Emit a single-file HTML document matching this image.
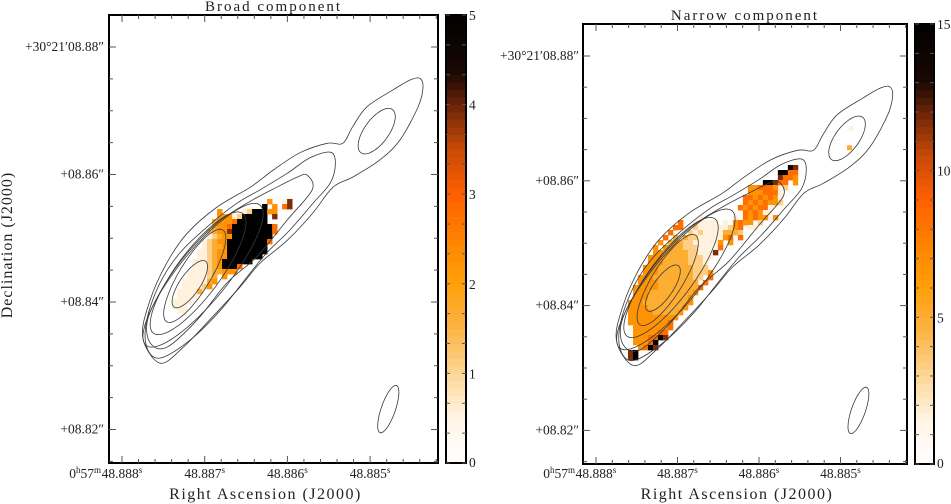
<!DOCTYPE html>
<html><head><meta charset="utf-8"><style>
html,body{margin:0;padding:0;background:#fff;width:951px;height:504px;overflow:hidden}
svg text{font-family:"Liberation Serif",serif;fill:#222}
</style></head><body>
<svg id="chart" width="951" height="504" viewBox="0 0 951 504" xmlns="http://www.w3.org/2000/svg"></svg>
<script>
// ---------- DATA ----------
const raTicks=[48.888,48.887,48.886,48.885];
const raTickLabels=["48.888","48.887","48.886","48.885"];
const decTicks=[8.88,8.86,8.84,8.82];
const decTickLabels=["+30°21′08.88″","+08.86″","+08.84″","+08.82″"];
const cbTicksBroad=[0,1,2,3,4,5];
const cbTicksNarrow=[0,5,10,15];
// contours in data units: u = (48.888-RA)*1000, v = (Dec-8.80)*100
const contour1U=[3.60,3.64,3.58,3.36,3.12,2.79,2.55,2.31,2.00,1.67,1.43,1.06,0.74,0.46,0.25,0.34,0.54,0.79,1.15,1.55,1.83,2.15,2.48,2.67,2.79,2.96,3.28,3.48];
const contour1V=[7.51,7.37,7.06,6.54,6.23,5.96,5.80,5.40,4.97,4.61,4.24,3.72,3.29,3.04,3.45,4.03,4.61,5.08,5.49,5.80,6.07,6.34,6.49,6.49,6.75,7.06,7.33,7.48];
const contour2U=[2.52,2.58,2.52,2.31,2.03,1.75,1.51,1.19,0.82,0.46,0.30,0.30,0.46,0.70,1.03,1.39,1.67,2.00,2.27];
const contour2V=[6.35,6.18,5.87,5.55,5.13,4.77,4.39,3.87,3.40,3.12,3.29,3.72,4.30,4.77,5.18,5.55,5.76,6.02,6.26];
const contour3U=[2.24,2.30,2.00,1.63,1.27,0.91,0.54,0.34,0.31,0.50,0.79,1.15,1.51,1.87,2.12];
const contour3V=[5.99,5.76,5.29,4.71,4.30,3.72,3.29,3.36,3.72,4.24,4.77,5.24,5.55,5.80,5.96];
const ellCU=[0.82,0.88,0.92,0.98,3.08,3.22];
const ellCV=[4.28,4.41,4.45,4.42,6.68,2.32];
const ellAU=[0.19,0.34,0.54,0.69,0.19,0.10];
const ellAV=[0.36,0.72,0.94,1.10,0.34,0.37];
const ellBU=[0.10,0.16,0.21,0.23,0.12,0.08];
const ellBV=[-0.09,-0.13,-0.21,-0.25,-0.11,-0.04];
const broadOrigin=[0.605,5.616], broadCell=[0.0605,0.0784];
const broadRows=[
"                   4  17",
"                  9 4 57",
"         4    1299944   ",
"         4441299999 7   ",
"        34445999999     ",
"        3445999999995   ",
"       23447999999995   ",
"       1234499999999    ",
"      12344999999995    ",
"      1233499999999     ",
"     11234499999999     ",
"     1123449999999      ",
"    111234999999        ",
"    1112349995          ",
"   1111233444           ",
"   111123 4             ",
"  1111134               ",
"  111124                ",
" 11113                  ",
" 1111                   ",
"1111                    ",
"111                     ",
" 11                     "];
const narrowOrigin=[0.331,6.253], narrowCell=[0.0613,0.0801];
const narrowRows=[
"                                 97",
"                               9955",
"                               7554",
"                            99755 4",
"                         445554 2  ",
"                         4445551   ",
"                        55454541   ",
"                        54545442   ",
"                       5454551     ",
"                        545411     ",
"               1      1 54544 4    ",
"           5  11111 1 4544 2       ",
"          55  2111111245 11        ",
"         5 1 21211113332           ",
"        5 3 3221111145 5           ",
"       4 33322111114 4             ",
"      4 4333222111 5               ",
"      4433333221117                ",
"     4443333322211                 ",
"     444333332221                  ",
"    4443333333222                  ",
"    44433333332224                 ",
"   4443333333322 5                 ",
"   444433333333 5                  ",
"  44444333333335                   ",
"  4443333333334                    ",
"  444333333334                     ",
" 4443333333334                     ",
" 444433333334                      ",
" 44444333334                       ",
" 4444444444                        ",
" 444444445                         ",
"  44444445                         ",
"  4444455                          ",
"  4445597                          ",
"  44459                            ",
"   4597                            ",
" 79                                ",
" 79                                "];
const narrowExtraU=[3.08,3.10], narrowExtraV=[6.57,6.88], narrowExtraD=[3,1];

// ---------- DRAW ----------
const svg=document.getElementById('chart');
const NS='http://www.w3.org/2000/svg';
function mk(tag,attrs,parent){const e=document.createElementNS(NS,tag);for(const k in attrs)e.setAttribute(k,attrs[k]);(parent||svg).appendChild(e);return e;}
const stops=[[0,[255,255,255]],[0.1,[255,244,230]],[0.2,[253,214,150]],[0.3,[252,180,70]],[0.4,[255,160,10]],[0.5,[255,130,0]],[0.6,[255,96,0]],[0.7,[200,74,6]],[0.8,[106,36,8]],[0.87,[26,8,4]],[1,[0,0,0]]];
function cmap(f){f=Math.max(0,Math.min(1,f));for(let i=1;i<stops.length;i++){if(f<=stops[i][0]){const a=stops[i-1],b=stops[i];const t=(f-a[0])/(b[0]-a[0]);const c=a[1].map((x,j)=>Math.round(x+(b[1][j]-x)*t));return `rgb(${c[0]},${c[1]},${c[2]})`;}}return '#000';}
function smooth(pts){let d='';const n=pts.length;for(let i=0;i<n;i++){const p0=pts[(i-1+n)%n],p1=pts[i],p2=pts[(i+1)%n],p3=pts[(i+2)%n];if(i===0)d+=`M${p1[0]},${p1[1]}`;const c1=[p1[0]+(p2[0]-p0[0])/6,p1[1]+(p2[1]-p0[1])/6],c2=[p2[0]-(p3[0]-p1[0])/6,p2[1]-(p3[1]-p1[1])/6];d+=`C${c1[0].toFixed(1)},${c1[1].toFixed(1)} ${c2[0].toFixed(1)},${c2[1].toFixed(1)} ${p2[0].toFixed(1)},${p2[1].toFixed(1)}`;}return d+'Z';}

const panels=[
 {id:'broad',fx0:109,fx1:438,fy0:15,fy1:463,ux0:122,upx:82.7,vy8:47,vpx:63.75,cbx:446,cbw:20,cby0:15,cby1:463,max:5,cbt:cbTicksBroad,title:'Broad component',ty:11,rows:broadRows,origin:broadOrigin,cell:broadCell,ylx:104,extra:false},
 {id:'narrow',fx0:583,fx1:907,fy0:24,fy1:464,ux0:596,upx:81.5,vy8:56,vpx:62.4,cbx:915,cbw:19,cby0:24,cby1:464,max:15,cbt:cbTicksNarrow,title:'Narrow component',ty:20,rows:narrowRows,origin:narrowOrigin,cell:narrowCell,ylx:579,extra:true}];

panels.forEach((P,pi)=>{
 const g=mk('g',{});
 const X=u=>P.ux0+u*P.upx, Y=v=>P.vy8+(8-v)*P.vpx;
 const xRA=ra=>X((48.888-ra)*1000), yDec=d=>Y((d-8.80)*100);
 const clip=mk('clipPath',{id:'clip'+pi},g);mk('rect',{x:P.fx0,y:P.fy0,width:P.fx1-P.fx0,height:P.fy1-P.fy0},clip);
 const hm=mk('g',{'clip-path':`url(#clip${pi})`},g);
 
 P.rows.forEach((row,r)=>{for(let c=0;c<row.length;c++){const ch=row[c];if(ch===' ')continue;const d=+ch;
  const u0=P.origin[0]+c*P.cell[0],v0=P.origin[1]-r*P.cell[1];
  const x0=X(u0),x1=X(u0+P.cell[0]),y0=Y(v0),y1=Y(v0-P.cell[1]);
  const e=mk('rect',{x:x0.toFixed(2),y:y0.toFixed(2),width:(x1-x0+0.4).toFixed(2),height:(y1-y0+0.4).toFixed(2),fill:cmap(d/9)},hm);
  
  }});
 if(P.extra){narrowExtraU.forEach((u,i)=>{const x0=X(u),x1=X(u+P.cell[0]),y0=Y(narrowExtraV[i]),y1=Y(narrowExtraV[i]-P.cell[1]);
  const e=mk('rect',{x:x0,y:y0,width:x1-x0,height:y1-y0,fill:cmap(narrowExtraD[i]/9)},hm);
  
  });}
 const cg=mk('g',{'clip-path':`url(#clip${pi})`,fill:'none',stroke:'#3a3a3a','stroke-width':0.8},g);
 
 [[contour1U,contour1V],[contour2U,contour2V],[contour3U,contour3V]].forEach(([U,V])=>{
  const e=mk('path',{d:smooth(U.map((u,i)=>[X(u),Y(V[i])]))},cg);
  
  });
 ellCU.forEach((cu,i)=>{const pts=[];for(let k=0;k<64;k++){const t=k/64*2*Math.PI;pts.push([X(cu+Math.cos(t)*ellAU[i]+Math.sin(t)*ellBU[i]),Y(ellCV[i]+Math.cos(t)*ellAV[i]+Math.sin(t)*ellBV[i])]);}
  const e=mk('path',{d:'M'+pts.map(p=>p[0].toFixed(1)+','+p[1].toFixed(1)).join('L')+'Z'},cg);
  
  });
 const fr=mk('rect',{x:P.fx0,y:P.fy0,width:P.fx1-P.fx0,height:P.fy1-P.fy0,fill:'none',stroke:'#000','stroke-width':2},g);
 
 const tg=mk('g',{stroke:'#555','stroke-width':1},g);
 for(let k=-2;k<=30;k++){const ra=48.888-k*0.0002;const x=xRA(ra);if(x<P.fx0+1||x>P.fx1-1)continue;const L=(k%5===0)?7:4;
  mk('line',{x1:x,x2:x,y1:P.fy1,y2:P.fy1-L},tg);mk('line',{x1:x,x2:x,y1:P.fy0,y2:P.fy0+L},tg);}
 for(let k=-6;k<=20;k++){const d=8.88-k*0.005;const y=yDec(d);if(y<P.fy0+1||y>P.fy1-1)continue;const L=(k%4===0)?7:4;
  mk('line',{x1:P.fx0,x2:P.fx0+L,y1:y,y2:y},tg);mk('line',{x1:P.fx1,x2:P.fx1-L,y1:y,y2:y},tg);}
 raTicks.forEach((ra,i)=>{const x=xRA(ra);
  const t=mk('text',{x:x,y:478,'text-anchor':'middle','font-size':13.5},g);
  
  t.appendChild(document.createTextNode(raTickLabels[i]));const s=mk('tspan',{dy:-5,'font-size':9},t);s.textContent='s';
  if(i===0){const p=mk('text',{x:x-21,y:478,'text-anchor':'end','font-size':13.5},g);
   
   p.appendChild(document.createTextNode('0'));let a=mk('tspan',{dy:-5,'font-size':9},p);a.textContent='h';
   let b=mk('tspan',{dy:5},p);b.textContent='57';let c=mk('tspan',{dy:-5,'font-size':9},p);c.textContent='m';}
 });
 decTicks.forEach((d,i)=>{const t=mk('text',{x:P.ylx,y:yDec(d)+4,'text-anchor':'end','font-size':13.5},g);
  t.textContent=decTickLabels[i];});
 const ti=mk('text',{x:(P.fx0+P.fx1)/2,y:P.ty,'text-anchor':'middle','font-size':15,'letter-spacing':2},g);
 ti.textContent=P.title;
 const xt=mk('text',{x:(P.fx0+P.fx1)/2-8,y:499,'text-anchor':'middle','font-size':16,'letter-spacing':1.5},g);
 xt.textContent='Right Ascension (J2000)';
 const cb=mk('g',{},g);
 const N=60,h=(P.cby1-P.cby0)/N;
 for(let k=0;k<N;k++){mk('rect',{x:P.cbx,y:P.cby1-(k+1)*h,width:P.cbw,height:h+0.4,fill:cmap((k+0.5)/N)},cb);}
 mk('rect',{x:P.cbx,y:P.cby0,width:P.cbw,height:P.cby1-P.cby0,fill:'none',stroke:'#000','stroke-width':2},cb);
 const cy=v=>P.cby1-v/P.max*(P.cby1-P.cby0);
 for(let v=0;v<=P.max;v+=P.max/15){mk('line',{x1:P.cbx,x2:P.cbx+4,y1:cy(v),y2:cy(v),stroke:'#555'},cb);mk('line',{x1:P.cbx+P.cbw,x2:P.cbx+P.cbw-4,y1:cy(v),y2:cy(v),stroke:'#555'},cb);}
 P.cbt.forEach(v=>{const t=mk('text',{x:P.cbx+P.cbw+3,y:Math.min(cy(v)+5,P.cby1+4),'font-size':13.5},cb);
  t.textContent=String(v);});
});
const yt=mk('text',{x:12,y:245,'text-anchor':'middle','font-size':16,'letter-spacing':1,transform:'rotate(-90 12 245)'});
yt.textContent='Declination (J2000)';
</script>
</body></html>
